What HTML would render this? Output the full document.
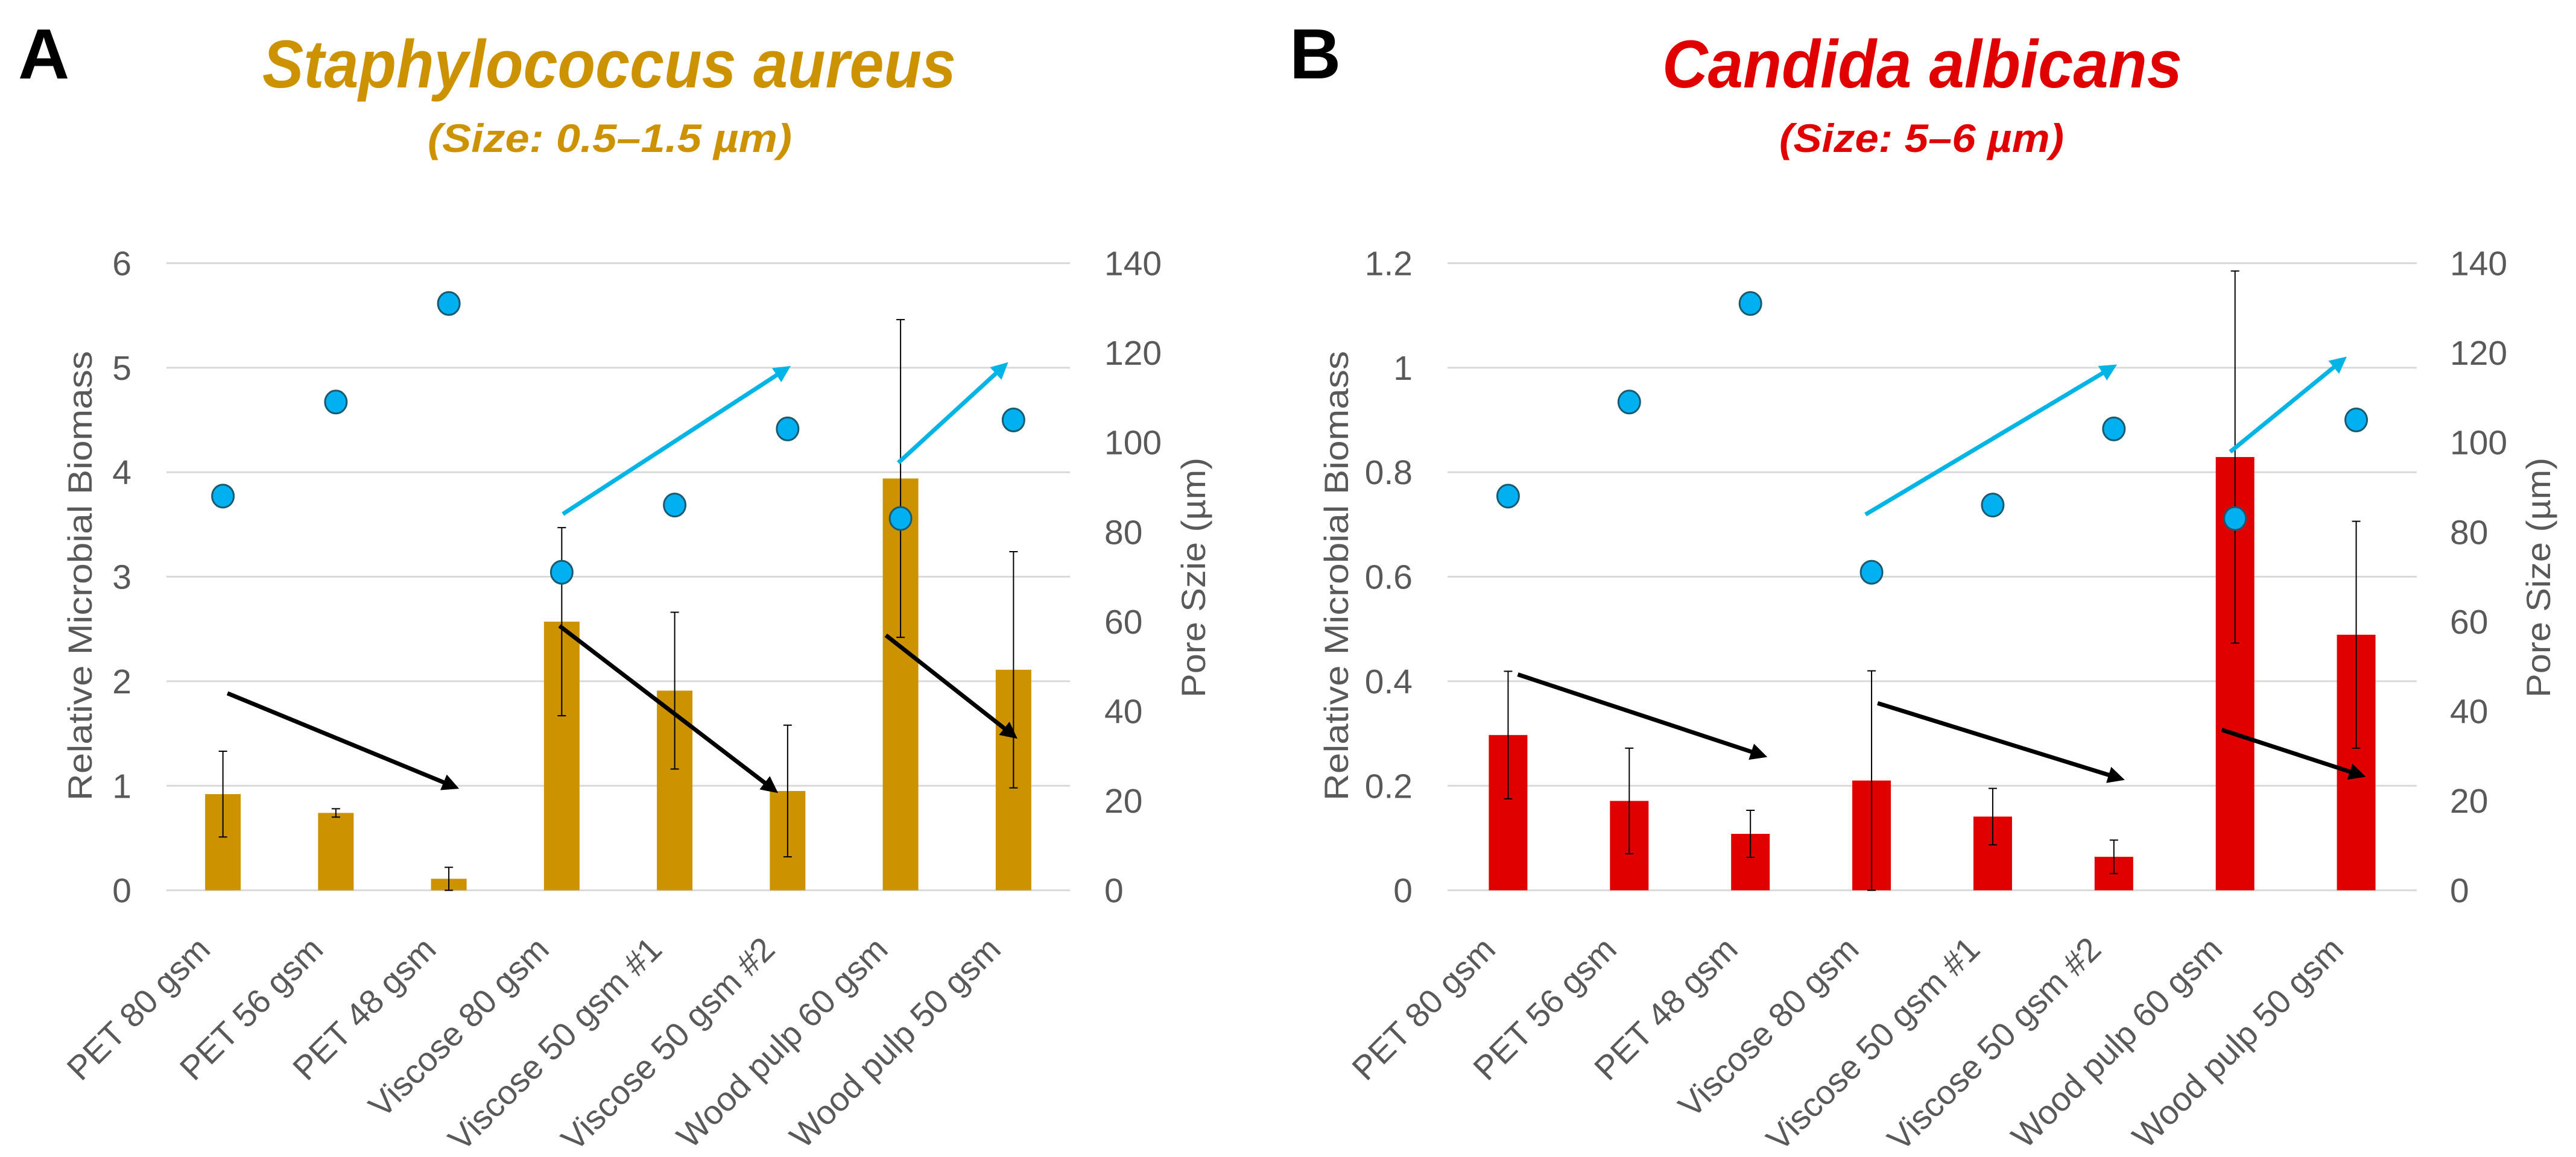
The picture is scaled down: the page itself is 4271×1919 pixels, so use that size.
<!DOCTYPE html>
<html><head><meta charset="utf-8"><style>
html,body{margin:0;padding:0;background:#fff;}
svg{display:block;}
text{font-family:"Liberation Sans",sans-serif;}
</style></head><body>
<svg id="fig" width="4271" height="1919" viewBox="0 0 4271 1919" xmlns="http://www.w3.org/2000/svg">
<defs>
<marker id="ahK" viewBox="0 0 10 10" refX="7" refY="5" markerWidth="4" markerHeight="4" orient="auto"><path d="M0,0 L10,5 L0,10 z" fill="#000"/></marker>
<marker id="ahC" viewBox="0 0 10 10" refX="7" refY="5" markerWidth="4" markerHeight="4" orient="auto"><path d="M0,0 L10,5 L0,10 z" fill="#00B4E6"/></marker>
</defs>
<text x="30" y="130" font-size="118" font-weight="bold" fill="#000">A</text>
<text x="1010" y="145" font-size="112" font-weight="bold" font-style="italic" fill="#CC9200" text-anchor="middle" textLength="1150" lengthAdjust="spacingAndGlyphs">Staphylococcus aureus</text>
<text x="1011" y="252" font-size="66" font-weight="bold" font-style="italic" fill="#CC9200" text-anchor="middle" textLength="604" lengthAdjust="spacingAndGlyphs">(Size: 0.5–1.5 µm)</text>
<text x="2138" y="130" font-size="118" font-weight="bold" fill="#000">B</text>
<text x="3187" y="145" font-size="112" font-weight="bold" font-style="italic" fill="#E00000" text-anchor="middle" textLength="862" lengthAdjust="spacingAndGlyphs">Candida albicans</text>
<text x="3186" y="252" font-size="66" font-weight="bold" font-style="italic" fill="#E00000" text-anchor="middle" textLength="472" lengthAdjust="spacingAndGlyphs">(Size: 5–6 µm)</text>
<g id="chartA"></g>
<g id="chartB"></g>
</svg>
<script>
const categories = ["PET 80 gsm","PET 56 gsm","PET 48 gsm","Viscose 80 gsm","Viscose 50 gsm #1","Viscose 50 gsm #2","Wood pulp 60 gsm","Wood pulp 50 gsm"];
const biomassA = [0.92,0.74,0.11,2.57,1.91,0.95,3.94,2.11];
const errA = [0.41,0.04,0.11,0.90,0.75,0.63,1.52,1.13];
const poreA = [88,109,131,71,86,103,83,105];
const ticksA = [0,1,2,3,4,5,6];
const biomassB = [0.297,0.171,0.108,0.21,0.141,0.064,0.829,0.489];
const errB = [0.122,0.101,0.045,0.21,0.054,0.032,0.356,0.217];
const poreB = [88,109,131,71,86,103,83,105];
const ticksB = [0,0.2,0.4,0.6,0.8,1,1.2];
const ticksPore = [0,20,40,60,80,100,120,140];
// arrows: [cat0, val0, cat1, val1]
const blackArrowsA = [[0.04,1.885,2.05,0.99],[2.98,2.53,4.88,0.96],[5.87,2.44,7.0,1.48]];
const cyanArrowsA = [[3.01,3.6,4.99,4.99],[5.98,4.09,6.92,5.02]];
const blackArrowsB = [[0.08,0.413,2.1,0.258],[3.05,0.358,5.05,0.214],[5.89,0.307,7.04,0.22]];
const cyanArrowsB = [[2.95,0.719,4.99,1.001],[5.96,0.839,6.89,1.015]];

const NS = "http://www.w3.org/2000/svg";
function mk(parent, tag, attrs, txt){
  const e = document.createElementNS(NS, tag);
  for (const k in attrs) e.setAttribute(k, attrs[k]);
  if (txt !== undefined) e.textContent = txt;
  parent.appendChild(e); return e;
}
function drawChart(cfg){
  const g = document.getElementById(cfg.id);
  const x0 = cfg.x0, x1 = cfg.x1, yTop = 436.5, yBot = 1476.6;
  const band = (x1 - x0) / categories.length;
  const xC = i => x0 + band * (i + 0.5);
  const yL = v => yBot - (v / cfg.yMax) * (yBot - yTop);
  const yR = v => yBot - (v / 140) * (yBot - yTop);
  cfg.ticks.forEach(t => {
    const l = mk(g, "line", {x1:x0, x2:x1, y1:yL(t), y2:yL(t), stroke:"#D9D9D9", "stroke-width":3});
    
    
    const tx = mk(g, "text", {x:cfg.lblL, y:yL(t)+20, "font-size":57, fill:"#595959", "text-anchor":"end"}, String(t));
    
    
  });
  ticksPore.forEach(t => {
    const tx = mk(g, "text", {x:cfg.lblR, y:yR(t)+20, "font-size":57, fill:"#595959", "text-anchor":"start"}, String(t));
    
    
  });
  const t1 = mk(g, "text", {x:0, y:0, "font-size":56, fill:"#595959", "text-anchor":"middle", transform:`translate(${cfg.titleL},955) rotate(-90)`, textLength:746, lengthAdjust:"spacingAndGlyphs"}, "Relative Microbial Biomass");
  
  
  const t2 = mk(g, "text", {x:0, y:0, "font-size":56, fill:"#595959", "text-anchor":"middle", transform:`translate(${cfg.titleR},958) rotate(-90)`, textLength:cfg.titleRLen, lengthAdjust:"spacingAndGlyphs"}, cfg.titleRText);
  
  
  categories.forEach((c, i) => {
    const cx = xC(i);
    const tx = mk(g, "text", {x:0, y:0, "font-size":56, fill:"#595959", "text-anchor":"end", transform:`translate(${cx-18},1578) rotate(-45)`}, c);
    
    
    const bw = cfg.barW;
    const b = mk(g, "rect", {x:cx-bw/2, y:yL(cfg.vals[i]), width:bw, height:yBot-yL(cfg.vals[i]), fill:cfg.color});
    
    
    const hi = yL(cfg.vals[i] + cfg.errs[i]), lo = yL(Math.max(0, cfg.vals[i] - cfg.errs[i]));
    const eb = mk(g, "path", {d:`M${cx},${hi} V${lo} M${cx-7},${hi} H${cx+7} M${cx-7},${lo} H${cx+7}`, stroke:"#000", "stroke-width":2, fill:"none"});
    
    
  });
  const arr = (list, col, mark, name) => list.forEach(a => {
    const l = mk(g, "line", {x1:xC(a[0]), y1:yL(a[1]), x2:xC(a[2]), y2:yL(a[3]), stroke:col, "stroke-width":7, "marker-end":`url(#${mark})`});
    
    
  });
  arr(cfg.black, "#000", "ahK", "trend-arrow-biomass");
  arr(cfg.cyan, "#00B4E6", "ahC", "trend-arrow-pore");
  cfg.pore.forEach((p, i) => {
    const d = mk(g, "ellipse", {cx:xC(i), cy:yR(p), rx:18, ry:19, fill:"#00B0F0", stroke:"#1A5A70", "stroke-width":3});
    
    
  });
}
drawChart({id:"chartA", x0:276, x1:1774, yMax:6, ticks:ticksA, vals:biomassA, errs:errA, pore:poreA, color:"#CC9200", barW:59, lblL:218, lblR:1831, titleL:152, titleR:1998, titleRLen:398, titleRText:"Pore Szie (µm)", black:blackArrowsA, cyan:cyanArrowsA});
drawChart({id:"chartB", x0:2400, x1:4007, yMax:1.2, ticks:ticksB, vals:biomassB, errs:errB, pore:poreB, color:"#E00000", barW:64, lblL:2342, lblR:4062, titleL:2235, titleR:4228, titleRLen:398, titleRText:"Pore Size (µm)", black:blackArrowsB, cyan:cyanArrowsB});
</script>
</body></html>
